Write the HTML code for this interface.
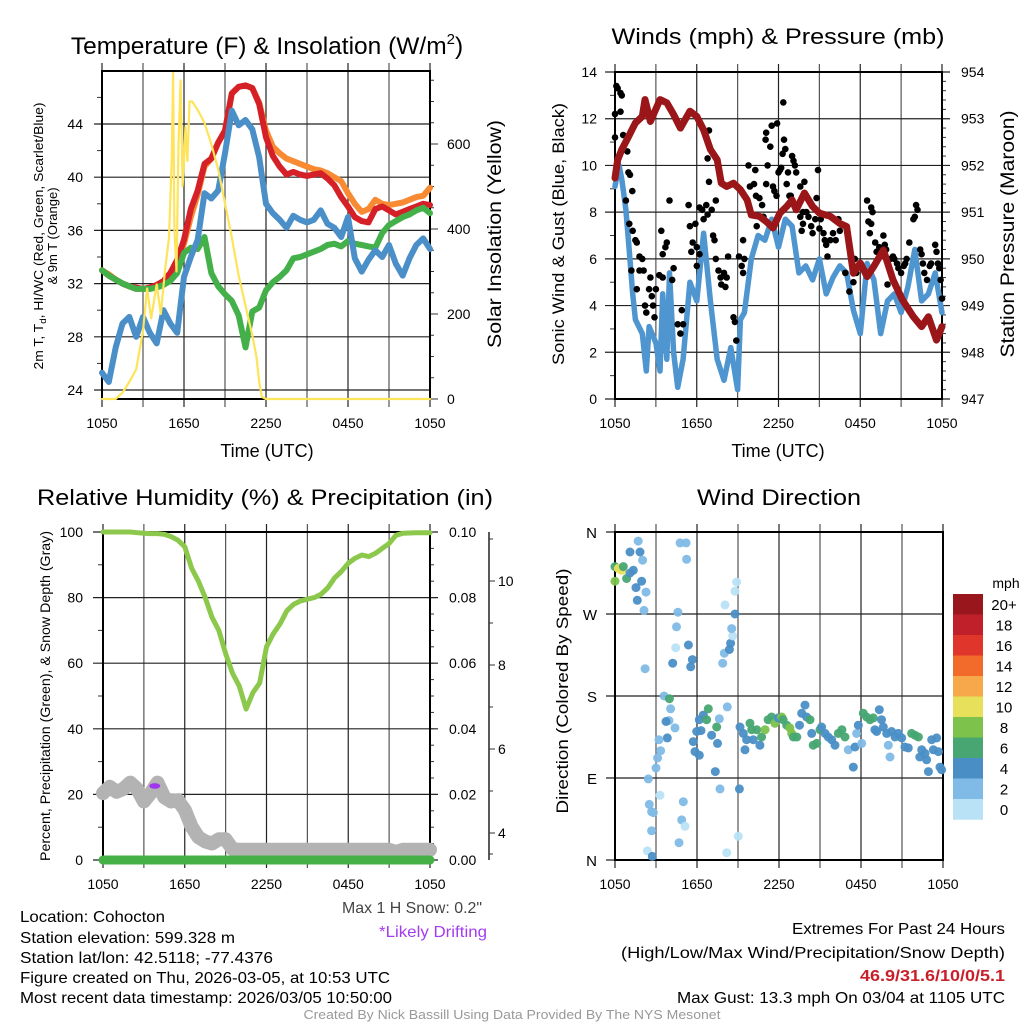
<!DOCTYPE html>
<html><head><meta charset="utf-8">
<style>
html,body{margin:0;padding:0;background:#fff;}
svg{display:block;font-family:"Liberation Sans",Arial,sans-serif;}
</style></head>
<body>
<svg id="fig" width="1024" height="1024" viewBox="0 0 1024 1024">
<rect x="0" y="0" width="1024" height="1024" fill="#fff"/>
<!-- titles -->
<text x="267" y="54" font-size="24.5" text-anchor="middle">Temperature (F) &amp; Insolation (W/m<tspan font-size="15" dy="-10">2</tspan><tspan dy="10">)</tspan></text>
<text x="778" y="44" font-size="22" text-anchor="middle" textLength="333" lengthAdjust="spacingAndGlyphs">Winds (mph) &amp; Pressure (mb)</text>
<text x="265" y="505" font-size="22" text-anchor="middle" textLength="456" lengthAdjust="spacingAndGlyphs">Relative Humidity (%) &amp; Precipitation (in)</text>
<text x="779" y="505" font-size="22" text-anchor="middle" textLength="164" lengthAdjust="spacingAndGlyphs">Wind Direction</text>
<!-- axis titles -->
<text x="267" y="457" font-size="18" text-anchor="middle">Time (UTC)</text>
<text x="778" y="457" font-size="18" text-anchor="middle">Time (UTC)</text>
<text transform="translate(43,236) rotate(-90)" font-size="13" text-anchor="middle" textLength="267" lengthAdjust="spacingAndGlyphs">2m T, T<tspan font-size="9" dy="3">d</tspan><tspan dy="-3">, HI/WC (Red, Green, Scarlet/Blue)</tspan></text>
<text transform="translate(57,236) rotate(-90)" font-size="13" text-anchor="middle">&amp; 9m T (Orange)</text>
<text transform="translate(501,234) rotate(-90)" font-size="19" text-anchor="middle" textLength="228" lengthAdjust="spacingAndGlyphs">Solar Insolation (Yellow)</text>
<text transform="translate(564,234) rotate(-90)" font-size="17" text-anchor="middle" textLength="262" lengthAdjust="spacingAndGlyphs">Sonic Wind &amp; Gust (Blue, Black)</text>
<text transform="translate(1014,234) rotate(-90)" font-size="19" text-anchor="middle" textLength="247" lengthAdjust="spacingAndGlyphs">Station Pressure (Maroon)</text>
<text transform="translate(50,696) rotate(-90)" font-size="14" text-anchor="middle" textLength="330" lengthAdjust="spacingAndGlyphs">Percent, Precipitation (Green), &amp; Snow Depth (Gray)</text>
<text transform="translate(568,691) rotate(-90)" font-size="17" text-anchor="middle" textLength="245" lengthAdjust="spacingAndGlyphs">Direction (Colored By Speed)</text>
<!-- footer -->
<g font-size="16" fill="#000">
<text x="20" y="922" textLength="145" lengthAdjust="spacingAndGlyphs">Location: Cohocton</text>
<text x="20" y="943" textLength="215" lengthAdjust="spacingAndGlyphs">Station elevation: 599.328 m</text>
<text x="20" y="963" textLength="253" lengthAdjust="spacingAndGlyphs">Station lat/lon: 42.5118; -77.4376</text>
<text x="20" y="983" textLength="370" lengthAdjust="spacingAndGlyphs">Figure created on Thu, 2026-03-05, at 10:53 UTC</text>
<text x="20" y="1003" textLength="372" lengthAdjust="spacingAndGlyphs">Most recent data timestamp: 2026/03/05 10:50:00</text>
<text x="482" y="913" text-anchor="end" fill="#444" textLength="140" lengthAdjust="spacingAndGlyphs">Max 1 H Snow: 0.2"</text>
<text x="487" y="937" text-anchor="end" fill="#a43cf0" textLength="108" lengthAdjust="spacingAndGlyphs">*Likely Drifting</text>
<text x="1005" y="934" text-anchor="end" textLength="213" lengthAdjust="spacingAndGlyphs">Extremes For Past 24 Hours</text>
<text x="1005" y="958" text-anchor="end" textLength="384" lengthAdjust="spacingAndGlyphs">(High/Low/Max Wind/Precipitation/Snow Depth)</text>
<text x="1005" y="981" text-anchor="end" fill="#c8202a" font-weight="bold" textLength="145" lengthAdjust="spacingAndGlyphs">46.9/31.6/10/0/5.1</text>
<text x="1005" y="1003" text-anchor="end" textLength="328" lengthAdjust="spacingAndGlyphs">Max Gust: 13.3 mph On 03/04 at 1105 UTC</text>
</g>
<text x="512" y="1019" font-size="13" fill="#999" text-anchor="middle" textLength="417" lengthAdjust="spacingAndGlyphs">Created By Nick Bassill Using Data Provided By The NYS Mesonet</text>
</svg>
<script>
// ---------- DATA ----------
const xTickHours=[0,6,12,18,24];
const xTickLabels=['1050','1650','2250','0450','1050'];
// Panel 1: temperature (half-hourly)
const tempHours=[0,0.5,1,1.5,2,2.5,3,3.5,4,4.5,5,5.5,6,6.5,7,7.5,8,8.5,9,9.5,10,10.5,11,11.5,12,12.5,13,13.5,14,14.5,15,15.5,16,16.5,17,17.5,18,18.5,19,19.5,20,20.5,21,21.5,22,22.5,23,23.5,24];
const tempRed=[33.0,32.6,32.3,32.0,31.8,31.7,31.6,31.7,31.9,32.2,32.8,33.8,35.3,37.6,39.0,41.0,41.4,42.6,43.5,46.3,46.8,46.9,46.7,45.5,43.0,41.6,40.8,40.2,40.4,40.2,40.1,40.2,40.3,39.9,39.4,38.5,37.8,37.0,36.7,36.6,37.6,37.8,37.5,37.2,37.4,37.6,37.8,38.0,37.9];
const tempOrange=[33.0,32.7,32.3,32.0,31.8,31.6,31.6,31.6,31.8,32.1,32.6,33.5,35.0,37.0,38.7,40.8,41.4,42.6,43.5,46.3,46.8,46.9,46.7,45.6,43.5,42.3,41.8,41.4,41.2,41.0,40.8,40.6,40.5,40.3,40.0,39.7,38.8,38.0,37.4,37.6,38.3,38.0,37.9,38.0,38.1,38.3,38.5,38.6,39.2];
const tempGreen=[33.0,32.6,32.3,32.0,31.8,31.6,31.6,31.6,31.7,31.9,32.2,32.8,34.3,34.7,34.6,35.5,32.8,31.8,31.2,30.7,29.6,27.2,29.9,30.2,31.5,32.1,32.5,33.0,33.9,34.0,34.2,34.4,34.6,34.9,35.0,34.8,35.2,35.0,34.9,34.8,34.7,35.8,36.4,36.7,37.0,37.2,37.5,37.7,37.3];
const tempBlue=[25.3,24.6,27.2,29.0,29.5,28.0,29.5,28.3,27.5,30.0,29.0,28.3,32.5,34.0,35.3,38.8,38.4,39.0,41.8,45.0,43.9,44.3,43.6,41.5,38.0,37.3,36.8,36.2,37.1,36.8,36.6,36.8,37.5,36.5,36.2,35.5,37.0,33.9,32.9,33.8,34.5,34.0,34.9,33.5,32.6,33.9,34.9,35.4,34.6];
const solarHours=[0,1.0,1.5,2.0,2.5,3.0,3.3,3.6,4.0,4.3,4.6,4.9,5.1,5.2,5.3,5.45,5.6,5.75,5.9,6.0,6.1,6.25,6.4,6.6,7.0,7.5,8.0,8.5,9.0,9.5,10.0,10.5,11.0,11.3,11.5,11.7,12,24];
const solarValues=[0,0,15,40,70,160,260,190,270,200,300,380,560,767,400,300,600,750,500,560,640,560,700,700,680,650,600,540,460,380,290,220,150,100,40,5,0,0];
const tempTicks=[24,28,32,36,40,44];
const solarTicks=[0,200,400,600];
// Panel 2: winds and pressure
const windHours=[0,0.3,0.5,0.8,1,1.3,1.5,2,2.3,2.5,3,3.3,3.5,3.8,4,4.3,4.6,5,5.5,6,6.5,7,7.5,8,8.5,9,9.2,9.5,10,10.5,11,11.5,12,12.5,13,13.5,14,14.5,15,15.5,16,16.5,17,17.5,18,18.5,19,19.5,20,20.5,21,21.5,22,22.5,23,23.5,24];
const windSpeed=[9.1,10.0,9.4,8.1,6.7,4.5,3.4,2.8,1.2,3.1,2.4,1.2,4.5,1.7,5.4,2.0,0.5,1.7,5.0,4.2,7.1,4.2,1.7,0.8,2.2,0.4,3.4,3.7,6.0,7.0,6.8,7.7,6.5,7.7,7.4,5.4,5.7,5.1,6.0,4.5,5.2,5.7,5.4,3.8,2.8,5.8,5.1,2.8,4.2,4.5,3.7,4.8,6.4,4.2,4.5,5.4,3.7];
const gustHours=[0,0.1,0.2,0.4,0.5,0.4,0,0.6,0.9,0.98,1.1,0.8,1.27,1.05,1.3,1.5,1.6,1.8,2,1.2,1.8,2.1,1.6,2.6,2.2,2.3,2.5,2.7,2.8,2.9,3.0,3.25,3.4,3.8,3.7,3.5,3.5,4.0,4.2,4.3,4.9,4.6,4.8,5.0,5.4,5.5,5.7,5.9,5.6,6.0,6.2,6.0,6.2,6.4,6.5,6.7,6.8,6.9,6.8,6.9,7.1,7.2,7.3,7.4,7.4,7.6,7.75,7.8,8.1,8.0,8.3,8.2,8.7,8.8,8.9,9.1,9.3,9.4,9.4,9.5,9.8,9.9,10.2,10.3,10.35,10.4,10.6,10.8,10.9,11.05,11.1,11.2,11.4,11.5,11.9,11.1,11.6,11.7,11.85,12.0,12.1,12.2,12.35,12.4,12.3,12.5,12.6,12.7,13.0,13.1,13.2,13.3,12.8,12.9,13.6,13.9,13.6,13.8,13.7,13.8,14.05,14.2,14.4,14.5,14.8,14.9,14.7,15.0,15.1,15.3,15.4,15.5,15.6,15.8,16.0,16.2,16.4,16.5,17.2,17.5,17.6,17.7,16.9,18.5,18.6,18.8,18.8,18.9,18.7,19.1,19.2,19.3,19.4,19.6,19.7,19.8,19.9,20.0,20.2,20.4,20.5,20.7,20.8,21.0,21.2,21.3,21.4,21.6,21.9,22.0,22.1,22.2,22.4,22.5,22.6,22.7,22.9,23.1,23.2,23.5,23.6,23.7,23.8,23.9,24];
const gustSpeed=[12.2,13.4,13.3,13.1,13.0,12.3,11.2,11.3,10.6,9.7,9.6,8.5,8.9,7.5,7.2,6.8,6.7,6.1,6.0,5.5,5.5,5.5,4.7,5.2,4.0,3.7,4.7,4.4,4.0,3.5,4.7,5.3,7.2,6.7,6.5,6.2,5.2,8.5,5.1,5.6,3.8,3.2,2.8,3.2,8.3,7.4,6.7,7.5,6.3,6.5,6.2,5.7,8.2,8.1,7.7,8.3,7.9,11.5,10.3,9.3,8.1,7.0,6.8,6.0,8.5,5.5,5.2,4.9,4.8,5.4,6.1,5.2,3.5,3.3,2.5,6.1,5.7,5.4,6.8,6.0,10.0,9.1,9.2,9.8,8.7,7.4,8.6,8.3,7.8,11.1,11.4,10.0,10.8,11.7,11.8,9.2,9.1,8.9,8.7,9.7,9.8,9.9,12.7,11.1,10.5,10.7,9.2,9.7,10.4,10.2,10.0,9.7,8.7,8.7,9.1,9.3,7.8,8.0,7.2,7.5,8.0,7.8,7.4,7.1,8.6,9.8,7.7,7.3,7.7,7.1,6.8,6.6,6.1,6.8,7.1,6.8,7.7,7.2,4.6,5.0,6.0,5.4,5.4,8.5,7.6,7.5,8.2,8.0,7.1,6.7,6.3,6.3,6.5,6.2,7.0,6.6,6.4,4.9,6.0,6.1,6.0,5.8,5.6,5.4,5.7,5.8,6.0,6.7,7.7,7.8,8.3,8.1,6.4,6.2,5.8,5.4,5.1,5.7,5.8,6.6,6.3,5.8,5.6,5.1,4.3];
const presHours=[0,0.2,0.5,1,1.5,2,2.2,2.6,3.3,3.8,4.3,4.8,5.5,6,6.5,7,7.5,7.8,8.2,8.7,9.2,9.7,10,10.6,11.1,11.6,12.1,12.6,13,13.3,13.9,14.5,15,15.8,16.5,17,17.5,18,18.5,19,19.7,20.4,21.1,21.9,22.5,23,23.6,24];
const presValues=[951.73,952.12,952.34,952.62,952.91,953.05,953.41,952.94,953.41,953.34,953.09,952.80,953.16,953.05,952.76,952.34,952.12,951.62,951.55,951.62,951.48,951.26,950.94,950.91,950.80,950.66,950.98,951.12,951.26,951.05,951.41,951.12,950.98,950.91,950.76,950.69,949.69,949.91,949.62,949.84,950.19,949.55,949.12,948.76,948.55,948.76,948.26,948.55];
const windTicks=[0,2,4,6,8,10,12,14];
const presTicks=[947,948,949,950,951,952,953,954];
// Panel 3: RH, precip, snow depth
const rhHours=tempHours;
const rhValues=[100,100,100,100,100,99.8,99.6,99.5,99.5,99.3,98.6,97.5,95.5,89,85,80,74,70,63,57,53,46,51,54,65,69,72,76,78,79,79.5,80,81,83,86,88,90.5,92,93,92.5,93.5,95,96.5,99,99.6,99.7,99.8,99.8,99.8];
const precipHours=[0,24];
const precipValues=[0,0];
const snowHours=tempHours;
const snowDepth=[4.95,5.1,4.98,5.05,5.2,5.05,4.75,4.95,5.2,4.85,4.75,4.78,4.55,4.15,3.9,3.8,3.75,3.85,3.85,3.62,3.6,3.6,3.6,3.6,3.6,3.6,3.6,3.6,3.6,3.6,3.6,3.6,3.6,3.6,3.6,3.6,3.6,3.6,3.6,3.6,3.6,3.6,3.6,3.55,3.6,3.6,3.6,3.6,3.6];
const driftHours=[3.8];
const driftDepth=[5.12];
const rhTicks=[0,20,40,60,80,100];
const precipTicks=[0,0.02,0.04,0.06,0.08,0.10];
const precipTickLabels=['0.00','0.02','0.04','0.06','0.08','0.10'];
const snowTicks=[4,6,8,10];
// Panel 4: wind direction
const dirHours=[0,0,0.24,0.49,0.61,0.85,1.1,1.34,1.1,1.7,1.83,2.02,1.95,1.54,1.63,2.27,2.12,2.2,4.6,4.5,4.44,4.76,5.2,5.24,5.37,5.54,5.66,4.22,3.59,3.98,4.07,3.95,3.73,4.39,3.83,3.22,3.34,3.12,3.0,2.44,3.29,2.51,2.68,2.8,2.68,2.37,2.73,4.68,4.88,5.12,5.0,6.17,6.46,6.83,6.7,6.29,5.98,5.73,5.85,6.17,7.07,7.44,7.5,7.63,7.34,7.68,8.22,7.88,8.0,8.37,8.46,8.05,8.61,8.54,8.78,8.78,8.9,9.1,9.02,8.17,
9.15,9.39,9.51,9.63,9.88,10.0,10.12,10.37,10.6,10.73,10.98,11.2,11.46,11.7,11.95,12.2,12.3,12.56,12.8,12.93,13.05,13.3,13.5,13.66,13.9,14.02,14.27,14.39,14.5,14.76,15.0,15.12,15.37,15.6,15.85,16.1,16.34,16.6,16.83,17.07,17.44,17.56,17.68,17.8,18.05,18.17,18.41,18.66,18.9,19.02,19.15,19.34,19.5,19.63,19.88,20.0,20.12,20.24,20.49,20.73,20.98,21.22,21.46,21.7,21.95,22.2,22.3,22.44,22.68,22.8,22.93,23.17,23.3,23.54,23.66,23.78,23.9];
const dirDegrees=[306,322,320,318,322,309,315,318,338,350,338,329,306,299,285,294,274,210,272,256,233,348,348,330,236,212,220,216,180,177,166,153,152,145,134,132,120,112,101,89,71,61,53,52,32,10,4,19,44,37,64,154,159,166,154,142,141,130,119,115,137,146,128,155,97,78,168,216,227,231,238,280,246,254,270,295,305,78,26,8,
146,139,121,132,150,143,132,143,126,135,143,154,157,150,156,157,154,148,145,139,135,135,148,161,170,157,154,139,126,128,143,146,139,135,132,126,139,143,135,121,102,124,139,148,128,161,157,154,156,143,141,165,154,146,139,126,113,141,135,139,134,124,123,139,137,135,113,121,117,110,97,132,121,134,119,102,99];
const dirSpeed=[9,7,11,11,7,7,5,5,5,3,5,3,5,5,5,3,3,3,3,3,1,3,3,3,5,5,5,5,3,7,3,3,5,3,5,3,3,3,3,3,1,3,3,3,3,1,5,3,3,1,3,5,5,7,7,5,5,5,5,5,5,7,5,3,5,3,3,3,3,5,5,1,1,3,5,1,1,5,1,1,
5,5,5,5,7,7,5,7,5,7,9,7,7,9,5,9,7,7,9,9,7,7,5,5,5,5,7,5,7,7,7,5,5,5,5,5,7,7,7,3,5,5,3,5,3,7,7,7,7,5,5,5,5,5,5,3,3,5,5,5,5,5,5,7,7,7,5,5,5,5,5,5,5,5,5,5,5];
const dirTicks=[0,90,180,270,360];
const dirTickLabels=['N','E','S','W','N'];
const speedBins=[0,2,4,6,8,10,12,14,16,18,20];
const speedLabels=['0','2','4','6','8','10','12','14','16','18','20+'];
const speedColors=['#b9e2f7','#7fbbe6','#4a8ec6','#47a672','#7cc24b','#e6e05a','#f7a84a','#f26b2b','#e0352a','#c0202a','#99171c'];

// ---------- RENDERING ----------
const NS='http://www.w3.org/2000/svg';
const svg=document.getElementById('fig');
function mk(tag,attrs,parent){const e=document.createElementNS(NS,tag);for(const k in attrs)e.setAttribute(k,attrs[k]);(parent||svg).appendChild(e);return e;}
function grp(name){const g=mk('g',{});return g;}
function pathD(xs,ys,sx,sy){let d='';for(let i=0;i<xs.length;i++){d+=(i?'L':'M')+sx(xs[i]).toFixed(1)+','+sy(ys[i]).toFixed(1);}return d;}
function txt(g,x,y,s,anchor,size,name){const t=mk('text',{x:x,y:y,'font-size':size||14,'text-anchor':anchor||'middle'},g);t.textContent=s;


return t;}

function frame(p,name){
  const g=grp(name+'-axes');
  for(let h=0;h<=24;h+=3){const x=p.sx(h);const l=mk('line',{x1:x,x2:x,y1:p.y0-8,y2:p.y1+8,stroke:(h%6?'#555':'#222'),'stroke-width':1.2},g);
    
    }
  xTickHours.forEach((h,i)=>{txt(g,p.sx(h),p.y1+29,xTickLabels[i],'middle',14,'x-tick-label');});
  return g;
}
function hline(g,y,x0,x1,col){const l=mk('line',{x1:x0,x2:x1,y1:y,y2:y,stroke:col||'#222','stroke-width':1.2},g);
  
  }
function tick(g,x0,x1,y){const l=mk('line',{x1:x0,x2:x1,y1:y,y2:y,stroke:'#333','stroke-width':1},g);
  
  }
function border(g,p){const r=mk('rect',{x:p.x0,y:p.y0,width:p.x1-p.x0,height:p.y1-p.y0,fill:'none',stroke:'#000','stroke-width':2},g);
  
  }
function series(g,xs,ys,sx,sy,col,w,name){const pth=mk('path',{d:pathD(xs,ys,sx,sy),fill:'none',stroke:col,'stroke-width':w,'stroke-linejoin':'round','stroke-linecap':'round'},g);
  
  
  return pth;}

// Panel 1
const P1={x0:102,x1:430,y0:71,y1:399};
P1.sx=t=>P1.x0+t*(P1.x1-P1.x0)/24;
const syT=v=>390-(v-24)*13.3;
const syS=w=>399-w*0.425;
(function(){
  const g=frame(P1,'temperature');
  tempTicks.forEach(v=>{hline(g,syT(v),P1.x0-8,P1.x1);txt(g,P1.x0-19,syT(v)+5,String(v),'end',14,'temp-tick-label');});
  for(let v=26;v<=46;v+=4)tick(g,P1.x0-5,P1.x0,syT(v));
  solarTicks.forEach(v=>{tick(g,P1.x1,P1.x1+8,syS(v));txt(g,P1.x1+17,syS(v)+5,String(v),'start',14,'solar-tick-label');});
  for(let v=50;v<=750;v+=50)if(v%200)tick(g,P1.x1,P1.x1+4,syS(v));
  border(g,P1);
  const s=grp('temperature-series');
  series(s,tempHours,tempOrange,P1.sx,syT,'#f78a33',6,'temp-9m-orange-line');
  series(s,tempHours,tempRed,P1.sx,syT,'#d62027',6,'temp-2m-red-line');
  series(s,tempHours,tempGreen,P1.sx,syT,'#44b04a',6,'dewpoint-green-line');
  series(s,tempHours,tempBlue,P1.sx,syT,'#4a8fc8',6,'windchill-blue-line');
  series(s,solarHours,solarValues,P1.sx,syS,'#fde45a',2.2,'solar-yellow-line');
})();

// Panel 2
const P2={x0:615,x1:942,y0:72,y1:399};
P2.sx=t=>P2.x0+t*(P2.x1-P2.x0)/24;
const syW=v=>399-v*(327/14);
const syP=p=>399-(p-947)*(327/7);
(function(){
  const g=frame(P2,'winds');
  windTicks.forEach(v=>{hline(g,syW(v),P2.x0-10,P2.x1+8);txt(g,P2.x0-18,syW(v)+5,String(v),'end',14,'wind-tick-label');});
  for(let v=1;v<14;v+=2)tick(g,P2.x0-5,P2.x0,syW(v));
  presTicks.forEach(v=>{txt(g,P2.x1+19,syP(v)+5,String(v),'start',14,'pressure-tick-label');});
  for(let v=947.2;v<954;v+=0.2)tick(g,P2.x1,P2.x1+4,syP(v));
  border(g,P2);
  const s=grp('wind-series');
  series(s,windHours,windSpeed,P2.sx,syW,'#4f96d0',5.5,'sonic-wind-blue-line');
  gustHours.forEach((h,i)=>{const c=mk('circle',{cx:P2.sx(h).toFixed(1),cy:syW(gustSpeed[i]).toFixed(1),r:3.3,fill:'#000'},s);
    
    });
  series(s,presHours,presValues,P2.sx,syP,'#9b1619',7,'pressure-maroon-line');
})();

// Panel 3
const P3={x0:103,x1:430,y0:532,y1:860};
P3.sx=t=>P3.x0+t*(P3.x1-P3.x0)/24;
const syRH=v=>860-v*3.28;
const syPr=v=>860-v*3280;
const sySn=d=>833-(d-4)*42;
(function(){
  const g=frame(P3,'humidity');
  rhTicks.forEach(v=>{hline(g,syRH(v),P3.x0-10,P3.x1+8);txt(g,P3.x0-20,syRH(v)+5,String(v),'end',14,'rh-tick-label');});
  for(let v=10;v<100;v+=20)tick(g,P3.x0-5,P3.x0,syRH(v));
  precipTicks.forEach((v,i)=>{txt(g,P3.x1+19,syPr(v)+5,precipTickLabels[i],'start',14,'precip-tick-label');});
  for(let v=0.005;v<0.1;v+=0.005)tick(g,P3.x1,P3.x1+4,syPr(v));
  const ax=mk('line',{x1:489,x2:489,y1:532,y2:860,stroke:'#222','stroke-width':1.5},g);
  
  
  snowTicks.forEach(v=>{tick(g,489,495,sySn(v));txt(g,498,sySn(v)+5,String(v),'start',14,'snow-tick-label');});
  [3.5,5,7,9,11].forEach(v=>{if(sySn(v)>532&&sySn(v)<860)tick(g,489,493,sySn(v));});
  border(g,P3);
  const s=grp('humidity-series');
  series(s,rhHours,rhValues,P3.sx,syRH,'#8cc84b',5,'rh-green-line');
  series(s,snowHours,snowDepth,P3.sx,sySn,'#b3b3b3',14,'snow-depth-gray-line');
  series(s,precipHours,precipValues,P3.sx,syPr,'#45b045',9,'precip-green-line');
  driftHours.forEach((h,i)=>{const e=mk('ellipse',{cx:P3.sx(h),cy:sySn(driftDepth[i]),rx:5.5,ry:2.8,fill:'#a236f0'},s);
    
    });
})();

// Panel 4
const P4={x0:615,x1:943,y0:532,y1:860};
P4.sx=t=>P4.x0+t*(P4.x1-P4.x0)/24;
const syD=d=>860-d*328/360;
function speedColor(v){let k=0;for(let i=0;i<speedBins.length;i++)if(v>=speedBins[i])k=i;return speedColors[k];}
(function(){
  const g=frame(P4,'direction');
  dirTicks.forEach((v,i)=>{hline(g,syD(v),P4.x0-9,P4.x1);txt(g,P4.x0-18,syD(v)+6,dirTickLabels[i],'end',15,'direction-tick-label');});
  border(g,P4);
  const s=grp('direction-points');
  dirHours.forEach((h,i)=>{const c=mk('circle',{cx:P4.sx(h).toFixed(1),cy:syD(dirDegrees[i]).toFixed(1),r:4.5,fill:speedColor(dirSpeed[i]),'fill-opacity':0.95},s);
    
    });
  const lg=grp('speed-legend');
  txt(lg,1006,588,'mph','middle',14,'legend-unit-label');
  for(let i=0;i<speedColors.length;i++){const k=speedColors.length-1-i;const y=594+i*20.5;
    const r=mk('rect',{x:953,y:y,width:30,height:20.7,fill:speedColors[k]},lg);
    
    
    txt(lg,1004,y+16,speedLabels[k],'middle',15,'legend-label');}
})();
</script>
</body></html>
